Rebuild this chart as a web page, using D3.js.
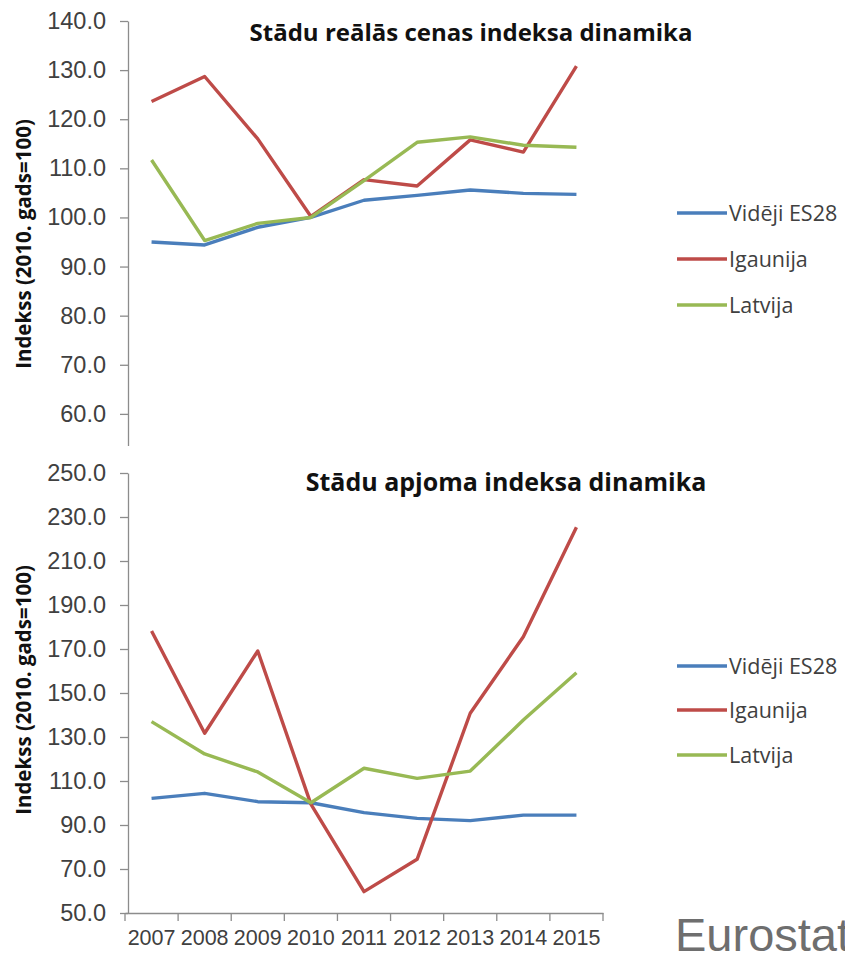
<!DOCTYPE html>
<html>
<head>
<meta charset="utf-8">
<script src="https://cdn.jsdelivr.net/npm/d3@7"></script>
<style>
  body { margin: 0; background: #fff; }
  svg { display: block; font-family: "Open Sans", "Noto Sans", sans-serif; }
</style>
</head>
<body>
<svg id="chart" width="845" height="954"></svg>
<script>
// <---------------- data ---------------->
const years = ["2007", "2008", "2009", "2010", "2011", "2012", "2013", "2014", "2015"];
const seriesNames = ["Vidēji ES28", "Igaunija", "Latvija"];
const seriesColors = ["#4a7ebb", "#be4b48", "#98b954"];

// price index
const priceEU = [95.0, 94.4, 98.0, 100.0, 103.5, 104.5, 105.6, 104.9, 104.7];
const priceEE = [123.6, 128.7, 116.0, 100.2, 107.7, 106.4, 115.8, 113.3, 130.8];
const priceLV = [111.7, 95.3, 98.8, 100.0, 107.5, 115.3, 116.4, 114.7, 114.3];

// volume index
const volEU = [102.1, 104.4, 100.6, 100.1, 95.6, 93.0, 92.0, 94.5, 94.5];
const volEE = [178.2, 131.7, 169.1, 99.5, 59.7, 74.4, 140.8, 175.6, 225.3];
const volLV = [137.0, 122.3, 114.1, 100.1, 115.8, 111.2, 114.5, 137.7, 159.2];

// top chart bottom (50.0) is hidden behind the lower chart
const priceTicks = [60, 70, 80, 90, 100, 110, 120, 130, 140];
const volTicks = [50, 70, 90, 110, 130, 150, 170, 190, 210, 230, 250];

const svg = d3.select("#chart");
const axisColor = "#8c8c8c";
const textColor = "#404040";

const x = d3.scaleBand().domain(years).range([125, 603]).padding(0);

const drawPanel = (opts) => {
  let g = svg.append("g");
  if (opts.clip) {
    svg.append("clipPath").attr("id", opts.id + "-clip")
      .append("rect").attr("x", 0).attr("y", 0).attr("width", 845).attr("height", opts.clip);
    g.attr("clip-path", "url(#" + opts.id + "-clip)");
  }
  let y = d3.scaleLinear().domain(opts.domain).range(opts.range);

  let yAxis = d3.axisLeft(y).tickValues(opts.ticks).tickFormat(d3.format(".1f"))
    .tickSize(8).tickPadding(14).tickSizeOuter(0);
  let ya = g.append("g").attr("transform", "translate(128,0)").call(yAxis);
  ya.select(".domain").attr("stroke", axisColor).attr("stroke-width", 1.3);
  ya.selectAll(".tick line").attr("stroke", axisColor).attr("stroke-width", 1.3);
  ya.selectAll(".tick text").attr("fill", textColor).attr("font-size", 23.5);

  if (opts.xAxis) {
    let xAxis = d3.axisBottom(x).tickSize(0).tickPadding(17).tickSizeOuter(0);
    let xa = g.append("g").attr("transform", "translate(0," + y(opts.domain[0]) + ")").call(xAxis);
    xa.select(".domain").attr("stroke", axisColor).attr("stroke-width", 1.3);
    xa.selectAll(".tick text").attr("fill", textColor).attr("font-size", 21.5);
    xa.selectAll(".bound")
      .data(years.concat(["end"]))
      .join("line")
      .attr("class", "bound")
      .attr("x1", (d) => (d === "end" ? x.range()[1] : x(d)))
      .attr("x2", (d) => (d === "end" ? x.range()[1] : x(d)))
      .attr("y1", 0)
      .attr("y2", 8)
      .attr("stroke", axisColor)
      .attr("stroke-width", 1.3);
  }

  let line = d3.line()
    .x((d, i) => x(years[i]) + x.bandwidth() / 2)
    .y((d) => y(d));

  g.selectAll(".series")
    .data(opts.series)
    .join("path")
    .attr("class", "series")
    .attr("d", (d) => line(d))
    .attr("fill", "none")
    .attr("stroke", (d, i) => seriesColors[i])
    .attr("stroke-width", 3.4)
    .attr("stroke-linejoin", "round");

  svg.append("text")
    .attr("x", opts.titleX)
    .attr("y", opts.titleY)
    .attr("text-anchor", "middle")
    .attr("font-weight", "bold")
    .attr("font-size", opts.titleSize)
    .attr("fill", "#111")
    .text(opts.title);

  svg.append("text")
    .attr("transform", "translate(31," + opts.labelY + ") rotate(-90)")
    .attr("text-anchor", "middle")
    .attr("font-weight", "bold")
    .attr("font-size", 20.5)
    .attr("fill", "#111")
    .text("Indekss (2010. gads=100)");

  let leg = svg.append("g").selectAll("g")
    .data(seriesNames)
    .join("g")
    .attr("transform", (d, i) => "translate(677," + opts.legendY[i] + ")");
  leg.append("line")
    .attr("x1", 0).attr("x2", 50)
    .attr("stroke", (d, i) => seriesColors[i])
    .attr("stroke-width", 3.4);
  leg.append("text")
    .attr("x", 52)
    .attr("dy", "0.35em")
    .attr("font-size", 21.5)
    .attr("fill", textColor)
    .text((d) => d);
};

drawPanel({
  id: "price",
  domain: [50, 140],
  range: [463, 21],
  ticks: priceTicks,
  clip: 446,
  xAxis: false,
  series: [priceEU, priceEE, priceLV],
  title: "Stādu reālās cenas indeksa dinamika",
  titleSize: 24,
  titleX: 471,
  titleY: 41,
  labelY: 244,
  legendY: [213, 259, 305],
});

drawPanel({
  id: "vol",
  domain: [50, 250],
  range: [913, 473],
  ticks: volTicks,
  clip: null,
  xAxis: true,
  series: [volEU, volEE, volLV],
  title: "Stādu apjoma indeksa dinamika",
  titleSize: 25,
  titleX: 506,
  titleY: 491,
  labelY: 690,
  legendY: [666, 710, 755],
});

svg.append("text")
  .attr("x", 675)
  .attr("y", 951)
  .attr("font-family", "Liberation Sans, Arial, sans-serif")
  .attr("font-size", 47)
  .attr("fill", "#6e6e6e")
  .text("Eurostat");
</script>
</body>
</html>
